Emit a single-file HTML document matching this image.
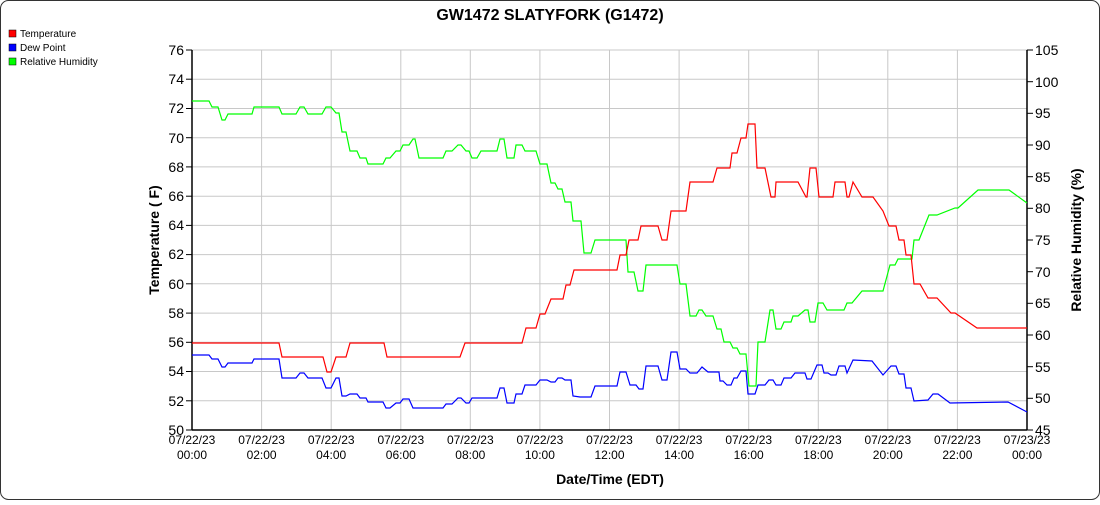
<!DOCTYPE html><html><head><style>body{margin:0;background:#fff}</style></head><body>
<svg width="1100" height="500" xmlns="http://www.w3.org/2000/svg" font-family="Liberation Sans, sans-serif">
<rect x="0.5" y="0.5" width="1099" height="499" rx="8" fill="#fff" stroke="#333"/>
<text x="550" y="20" text-anchor="middle" font-size="16" font-weight="bold">GW1472 SLATYFORK (G1472)</text>
<g font-size="10"><rect x="9" y="30" width="7" height="7" fill="#f00" stroke="#000" stroke-width=".5"/><text x="20" y="37">Temperature</text>
<rect x="9" y="44" width="7" height="7" fill="#00f" stroke="#000" stroke-width=".5"/><text x="20" y="51">Dew Point</text>
<rect x="9" y="58" width="7" height="7" fill="#0f0" stroke="#000" stroke-width=".5"/><text x="20" y="65">Relative Humidity</text></g>
<g stroke="#c8c8c8" stroke-width="1">
<line x1="192" x2="1027" y1="50" y2="50"/><line x1="192" x2="1027" y1="79.2" y2="79.2"/><line x1="192" x2="1027" y1="108.5" y2="108.5"/><line x1="192" x2="1027" y1="137.7" y2="137.7"/><line x1="192" x2="1027" y1="166.9" y2="166.9"/><line x1="192" x2="1027" y1="196.2" y2="196.2"/><line x1="192" x2="1027" y1="225.4" y2="225.4"/><line x1="192" x2="1027" y1="254.6" y2="254.6"/><line x1="192" x2="1027" y1="283.8" y2="283.8"/><line x1="192" x2="1027" y1="313.1" y2="313.1"/><line x1="192" x2="1027" y1="342.3" y2="342.3"/><line x1="192" x2="1027" y1="371.5" y2="371.5"/><line x1="192" x2="1027" y1="400.8" y2="400.8"/>
<line y1="50" y2="430" x1="261.6" x2="261.6"/><line y1="50" y2="430" x1="331.2" x2="331.2"/><line y1="50" y2="430" x1="400.8" x2="400.8"/><line y1="50" y2="430" x1="470.3" x2="470.3"/><line y1="50" y2="430" x1="539.9" x2="539.9"/><line y1="50" y2="430" x1="609.5" x2="609.5"/><line y1="50" y2="430" x1="679.1" x2="679.1"/><line y1="50" y2="430" x1="748.7" x2="748.7"/><line y1="50" y2="430" x1="818.3" x2="818.3"/><line y1="50" y2="430" x1="887.8" x2="887.8"/><line y1="50" y2="430" x1="957.4" x2="957.4"/>
</g>
<g stroke="#000" stroke-width="1.5" fill="none"><line x1="192" y1="50" x2="192" y2="430"/><line x1="1027" y1="50" x2="1027" y2="430"/><line x1="192" y1="430" x2="1027" y2="430"/></g>
<g stroke="#000"><line x1="186" x2="192" y1="50" y2="50"/><line x1="186" x2="192" y1="79.2" y2="79.2"/><line x1="186" x2="192" y1="108.5" y2="108.5"/><line x1="186" x2="192" y1="137.7" y2="137.7"/><line x1="186" x2="192" y1="166.9" y2="166.9"/><line x1="186" x2="192" y1="196.2" y2="196.2"/><line x1="186" x2="192" y1="225.4" y2="225.4"/><line x1="186" x2="192" y1="254.6" y2="254.6"/><line x1="186" x2="192" y1="283.8" y2="283.8"/><line x1="186" x2="192" y1="313.1" y2="313.1"/><line x1="186" x2="192" y1="342.3" y2="342.3"/><line x1="186" x2="192" y1="371.5" y2="371.5"/><line x1="186" x2="192" y1="400.8" y2="400.8"/><line x1="186" x2="192" y1="430" y2="430"/>
<line x1="1027" x2="1033" y1="50" y2="50"/><line x1="1027" x2="1033" y1="81.7" y2="81.7"/><line x1="1027" x2="1033" y1="113.3" y2="113.3"/><line x1="1027" x2="1033" y1="145" y2="145"/><line x1="1027" x2="1033" y1="176.7" y2="176.7"/><line x1="1027" x2="1033" y1="208.3" y2="208.3"/><line x1="1027" x2="1033" y1="240" y2="240"/><line x1="1027" x2="1033" y1="271.7" y2="271.7"/><line x1="1027" x2="1033" y1="303.3" y2="303.3"/><line x1="1027" x2="1033" y1="335" y2="335"/><line x1="1027" x2="1033" y1="366.7" y2="366.7"/><line x1="1027" x2="1033" y1="398.3" y2="398.3"/><line x1="1027" x2="1033" y1="430" y2="430"/></g>
<g font-size="14" text-anchor="end"><text x="184" y="55">76</text><text x="184" y="84">74</text><text x="184" y="113">72</text><text x="184" y="143">70</text><text x="184" y="172">68</text><text x="184" y="201">66</text><text x="184" y="230">64</text><text x="184" y="259">62</text><text x="184" y="289">60</text><text x="184" y="318">58</text><text x="184" y="347">56</text><text x="184" y="376">54</text><text x="184" y="406">52</text><text x="184" y="435">50</text></g>
<g font-size="14"><text x="1035" y="55">105</text><text x="1035" y="87">100</text><text x="1035" y="118">95</text><text x="1035" y="150">90</text><text x="1035" y="182">85</text><text x="1035" y="213">80</text><text x="1035" y="245">75</text><text x="1035" y="277">70</text><text x="1035" y="308">65</text><text x="1035" y="340">60</text><text x="1035" y="372">55</text><text x="1035" y="403">50</text><text x="1035" y="435">45</text></g>
<g font-size="12" text-anchor="middle">
<text x="192" y="444">07/22/23</text><text x="192" y="459">00:00</text>
<text x="261.6" y="444">07/22/23</text><text x="261.6" y="459">02:00</text>
<text x="331.2" y="444">07/22/23</text><text x="331.2" y="459">04:00</text>
<text x="400.8" y="444">07/22/23</text><text x="400.8" y="459">06:00</text>
<text x="470.3" y="444">07/22/23</text><text x="470.3" y="459">08:00</text>
<text x="539.9" y="444">07/22/23</text><text x="539.9" y="459">10:00</text>
<text x="609.5" y="444">07/22/23</text><text x="609.5" y="459">12:00</text>
<text x="679.1" y="444">07/22/23</text><text x="679.1" y="459">14:00</text>
<text x="748.7" y="444">07/22/23</text><text x="748.7" y="459">16:00</text>
<text x="818.3" y="444">07/22/23</text><text x="818.3" y="459">18:00</text>
<text x="887.8" y="444">07/22/23</text><text x="887.8" y="459">20:00</text>
<text x="957.4" y="444">07/22/23</text><text x="957.4" y="459">22:00</text>
<text x="1027" y="444">07/23/23</text><text x="1027" y="459">00:00</text></g>
<text x="610" y="484" text-anchor="middle" font-size="14" font-weight="bold">Date/Time (EDT)</text>
<text transform="translate(159,240) rotate(-90)" text-anchor="middle" font-size="14" font-weight="bold">Temperature ( F)</text>
<text transform="translate(1081,240) rotate(-90)" text-anchor="middle" font-size="14" font-weight="bold">Relative Humidity (%)</text>
<g fill="none" stroke-width="1.2">
<polyline stroke="#00ff00" points="192,101 209,101 212,107 218,107 222,120 225,120 228,114 252,114 254,107 279,107 282,114 296,114 300,107 304,107 308,114 322,114 326,107 331,107 336,113 339,113 342,132 346,132 350,151 357,151 360,158 366,158 368,164 383,164 386,158 390,158 396,151 400,151 403,145 409,145 413,139 415,139 419,158 443,158 446,151 452,151 458,145 461,145 466,151 469,151 472,158 477,158 481,151 497,151 500,139 504,139 507,158 514,158 516,145 522,145 525,151 536,151 540,164 547,164 551,183 555,183 558,189 562,189 565,202 571,202 573,221 581,221 584,253 591,253 595,240 626,240 628,272 634,272 638,291 643,291 646,265 677,265 680,284 686,284 690,316 696,316 699,310 702,310 706,316 713,316 717,329 721,329 724,342 730,342 733,348 737,348 740,354 746,354 749,386 756,386 758,342 765,342 770,310 773,310 776,329 781,329 784,322 791,322 793,316 798,316 805,310 808,310 810,322 815,322 818,303 823,303 827,310 844,310 847,303 852,303 862,291 883,291 890,265 895,265 898,259 912,259 914,240 919,240 929,215 937,215 955,208 958,208 978,190 1009,190 1027,203"/>
<polyline stroke="#ff0000" points="192,343 279,343 282,357 323,357 327,372 331,372 336,357 346,357 350,343 384,343 387,357 460,357 465,343 522,343 526,328 536,328 540,314 545,314 551,299 563,299 566,285 570,285 574,270 617,270 620,255 626,255 629,240 638,240 641,226 658,226 662,240 667,240 671,211 686,211 690,182 713,182 717,168 730,168 732,153 737,153 741,138 746,138 748,124 755,124 757,168 765,168 771,197 775,197 776,182 798,182 806,197 807,197 810,168 816,168 819,197 833,197 835,182 845,182 847,197 849,197 853,182 862,197 873,197 883,211 889,226 896,226 899,240 904,240 906,255 911,255 914,284 920,284 928,298 937,298 951,313 955,313 977,328 1027,328"/>
<polyline stroke="#0000ff" points="192,355 209,355 212,359 218,359 222,367 225,367 228,363 252,363 254,359 279,359 282,378 296,378 300,373 304,373 308,378 322,378 326,388 331,388 336,378 339,378 342,396 346,396 350,394 357,394 360,398 366,398 368,402 383,402 386,408 390,408 396,403 400,403 403,399 409,399 413,408 443,408 446,404 452,404 458,398 461,398 466,403 469,403 472,398 497,398 500,388 504,388 507,403 514,403 516,394 522,394 525,385 536,385 540,380 547,380 551,382 555,382 558,378 562,378 565,380 571,380 573,396 580,397 584,397 591,397 595,386 617,386 620,372 626,372 630,385 636,385 639,389 643,389 646,366 658,366 662,380 667,380 671,352 677,352 680,369 686,369 690,373 697,373 702,367 708,372 719,372 720,381 723,381 727,385 731,385 734,378 737,378 741,371 746,371 748,394 755,394 758,385 765,385 769,380 773,380 776,385 781,385 784,378 791,378 795,373 805,373 807,379 811,379 817,365 822,365 824,373 828,373 831,375 836,375 839,366 845,366 847,373 853,360 872,361 883,375 891,366 896,366 899,374 904,374 906,388 911,388 914,401 928,400 933,394 938,394 950,403 1008,402 1027,412"/>
</g>
</svg>
</body></html>
